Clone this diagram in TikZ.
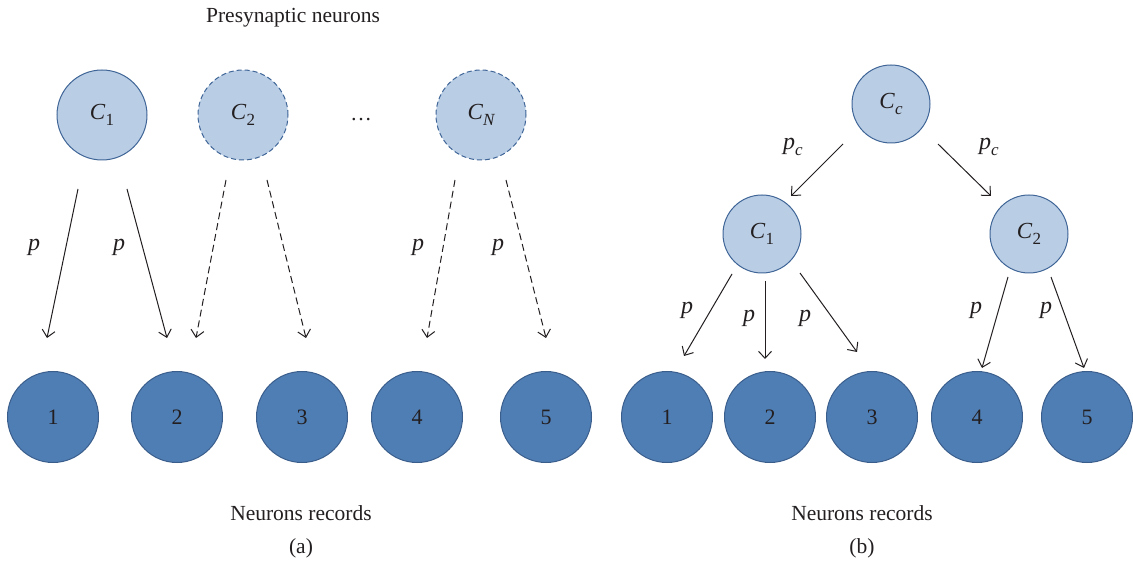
\documentclass[tikz,border=0pt]{standalone}
\usepackage{fontspec}
\setmainfont{Liberation Serif}
\usetikzlibrary{arrows.meta}
\definecolor{presyn}{HTML}{B9CDE5}
\definecolor{presynline}{HTML}{3F6597}
\definecolor{record}{HTML}{4F7EB5}
\definecolor{recordline}{HTML}{3A5E8C}
\definecolor{ink}{HTML}{231F20}
\tikzset{
  presynA/.style={circle, fill=presyn, draw=presynline, line width=1pt,
    minimum size=90pt, inner sep=0pt, font=\fontsize{23}{25}\selectfont, text=ink},
  presynB/.style={presynA, minimum size=78pt},
  hidden/.style={dash pattern=on 5pt off 3pt},
  rec/.style={circle, fill=record, draw=recordline, line width=1pt,
    minimum size=91pt, inner sep=0pt, font=\fontsize{22}{24}\selectfont, text=ink},
  link/.style={draw=ink, line width=1pt, -{Straight Barb[length=7pt,width=13pt,line width=1pt]}},
  dlink/.style={link, dash pattern=on 7pt off 4pt},
  plab/.style={font=\fontsize{24}{26}\selectfont\itshape, text=ink},
  caption/.style={font=\fontsize{21.5}{24}\selectfont, text=ink}
}
\newcommand{\cname}[1]{\textit{C}\raisebox{-0.28em}{\fontsize{17}{18}\selectfont #1}}
\newcommand{\ciname}[1]{\textit{C}\raisebox{-0.28em}{\fontsize{17}{18}\selectfont\itshape #1}}
\begin{document}
\begin{tikzpicture}[x=1pt,y=-1pt]
\useasboundingbox (0,0) rectangle (1133,561);

% ---- (a) independent presynaptic neurons ----
\node[caption] (title) at (293,18) {Presynaptic neurons};
\node[presynA] (a1) at (102,115) {\cname{1}};
\node[presynA, hidden] (a2) at (243,115) {\cname{2}};
\node[presynA, hidden] (aN) at (481,115) {\ciname{N}};
\node[caption] (dots) at (361,120) {\dots};

\foreach \i/\x in {1/53,2/177,3/302,4/417,5/546}
  \node[rec] (r\i) at (\x,417) {\i};

\coordinate (s1a) at (78,189);  \coordinate (e1a) at (47,338);
\coordinate (s1b) at (127,189); \coordinate (e1b) at (167,338);
\coordinate (s2a) at (226,180); \coordinate (e2a) at (196,338);
\coordinate (s2b) at (267,180); \coordinate (e2b) at (306,338);
\coordinate (sNa) at (455,180); \coordinate (eNa) at (427,338);
\coordinate (sNb) at (506,180); \coordinate (eNb) at (546,338);

\draw[link]  (s1a) -- (e1a);
\draw[link]  (s1b) -- (e1b);
\draw[dlink] (s2a) -- (e2a);
\draw[dlink] (s2b) -- (e2b);
\draw[dlink] (sNa) -- (eNa);
\draw[dlink] (sNb) -- (eNb);

\node[plab] (pa1) at (34,247) {p};
\node[plab] (pa2) at (119,247) {p};
\node[plab] (pa3) at (418,247) {p};
\node[plab] (pa4) at (498,247) {p};

\node[caption] (reca) at (301,513) {Neurons records};
\node[caption] (laba) at (301,548) {(a)};

% ---- (b) common input ----
\node[presynB] (bc) at (891,104) {\ciname{c}};
\node[presynB] (b1) at (762,234) {\cname{1}};
\node[presynB] (b2) at (1029,234) {\cname{2}};

\foreach \i/\x in {1/667,2/770,3/872,4/977,5/1087}
  \node[rec] (q\i) at (\x,417) {\i};

\coordinate (sc1) at (843,144);  \coordinate (ec1) at (791,196);
\coordinate (sc2) at (938,144);  \coordinate (ec2) at (991,196);
\coordinate (s11) at (732,274);  \coordinate (e11) at (684,356);
\coordinate (s12) at (765,281);  \coordinate (e12) at (765,359);
\coordinate (s13) at (800,273);  \coordinate (e13) at (857,352);
\coordinate (s21) at (1008,277); \coordinate (e21) at (982,368);
\coordinate (s22) at (1051,277); \coordinate (e22) at (1084,368);

\draw[link] (sc1) -- (ec1);
\draw[link] (sc2) -- (ec2);
\draw[link] (s11) -- (e11);
\draw[link] (s12) -- (e12);
\draw[link] (s13) -- (e13);
\draw[link] (s21) -- (e21);
\draw[link] (s22) -- (e22);

\node[plab] (pc1) at (793,147) {p\raisebox{-0.25em}{\fontsize{17}{18}\selectfont c}};
\node[plab] (pc2) at (989,147) {p\raisebox{-0.25em}{\fontsize{17}{18}\selectfont c}};
\node[plab] (pb1) at (687,310) {p};
\node[plab] (pb2) at (749,318) {p};
\node[plab] (pb3) at (805,318) {p};
\node[plab] (pb4) at (976,310) {p};
\node[plab] (pb5) at (1046,310) {p};

\node[caption] (recb) at (862,513) {Neurons records};
\node[caption] (labb) at (862,548) {(b)};
\end{tikzpicture}
\end{document}
